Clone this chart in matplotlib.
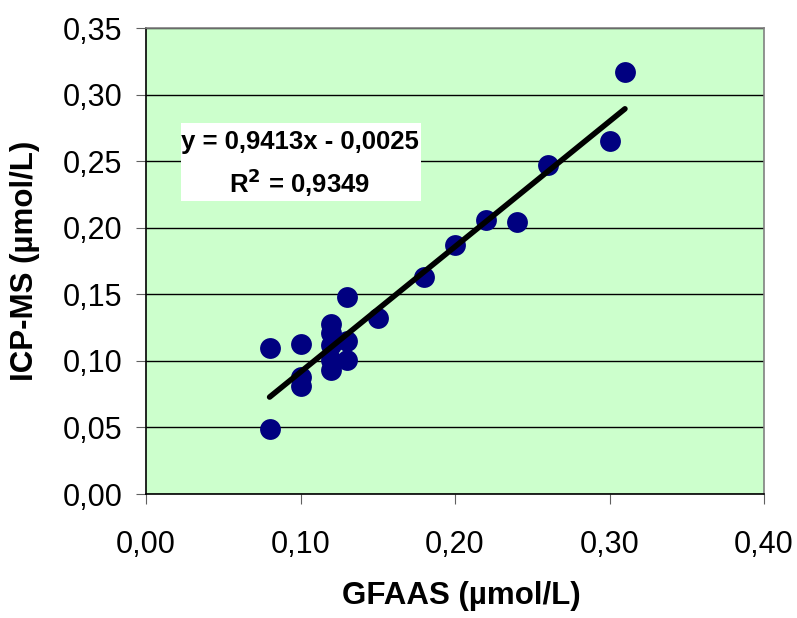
import matplotlib
matplotlib.use("Agg")
import matplotlib.pyplot as plt
from matplotlib.patches import Rectangle
import numpy as np

plt.rcParams['font.family'] = ['Liberation Sans', 'DejaVu Sans']

gfaas = [0.08, 0.08, 0.10, 0.10, 0.10, 0.12, 0.12, 0.12, 0.12, 0.12,
         0.13, 0.13, 0.13, 0.15, 0.18, 0.20, 0.22, 0.24, 0.26, 0.30, 0.31]
icpms = [0.049, 0.110, 0.113, 0.088, 0.081, 0.128, 0.121, 0.112, 0.101, 0.093,
         0.148, 0.115, 0.101, 0.132, 0.163, 0.187, 0.206, 0.204, 0.247, 0.265, 0.317]
slope, intercept = 0.9413, -0.0025
xticks = [0.0, 0.1, 0.2, 0.3, 0.4]
yticks = [0.0, 0.05, 0.10, 0.15, 0.20, 0.25, 0.30, 0.35]

W, H = 797, 618
L, R, T, B = 146, 764, 28, 494
fig = plt.figure(figsize=(W/100, H/100), dpi=100)
ax = fig.add_axes([L/W, 1-B/H, (R-L)/W, (B-T)/H])
ax.set_facecolor('#CCFFCC')
ax.set_xlim(0, 0.4)
ax.set_ylim(0, 0.35)
ax.set_xticks(xticks)
ax.set_yticks(yticks)
ax.set_xticklabels([f"{v:.2f}".replace('.', ',') for v in xticks], fontsize=22)
ax.set_yticklabels([f"{v:.2f}".replace('.', ',') for v in yticks], fontsize=22)
ax.yaxis.grid(True, color='black', linewidth=1.0)
ax.set_axisbelow(True)
ax.spines['left'].set_color('black')
ax.spines['bottom'].set_color('black')
ax.spines['top'].set_color('#808080')
ax.spines['right'].set_color('#808080')
for s in ax.spines.values():
    s.set_linewidth(1.2)
ax.tick_params(axis='y', direction='out', length=7, color='#606060', pad=10)
ax.tick_params(axis='x', direction='out', length=7, color='#606060', pad=19)

ax.scatter(gfaas, icpms, s=225, color='#000080', zorder=3, linewidths=0)
xl = np.array([min(gfaas), max(gfaas)])
ax.plot(xl, slope*xl + intercept, color='black', linewidth=4, zorder=4, solid_capstyle='round')

def ax_x(px):
    return (px - L) / (R - L)

def ax_y(py):
    return (B - py) / (B - T)

ax.add_patch(Rectangle((ax_x(181), ax_y(201)), ax_x(421) - ax_x(181), ax_y(123) - ax_y(201),
                       transform=ax.transAxes, facecolor='white', edgecolor='none', zorder=5))
ax.text(ax_x(300), ax_y(142), "y = 0,9413x - 0,0025", transform=ax.transAxes,
        ha='center', va='center', fontsize=18.5, fontweight='bold', zorder=6)
ax.text(ax_x(300), ax_y(183), "R$^\\mathbf{2}$ = 0,9349", transform=ax.transAxes,
        ha='center', va='center', fontsize=18.5, fontweight='bold', zorder=6)

fig.text(461/W, 1-596/H, "GFAAS (µmol/L)", fontsize=22.5, fontweight='bold',
         ha='center', va='center')
fig.text(25/W, 1-261/H, "ICP-MS (µmol/L)", fontsize=22.5, fontweight='bold',
         ha='center', va='center', rotation=90)

fig.savefig("out.png", dpi=100, facecolor='white')
